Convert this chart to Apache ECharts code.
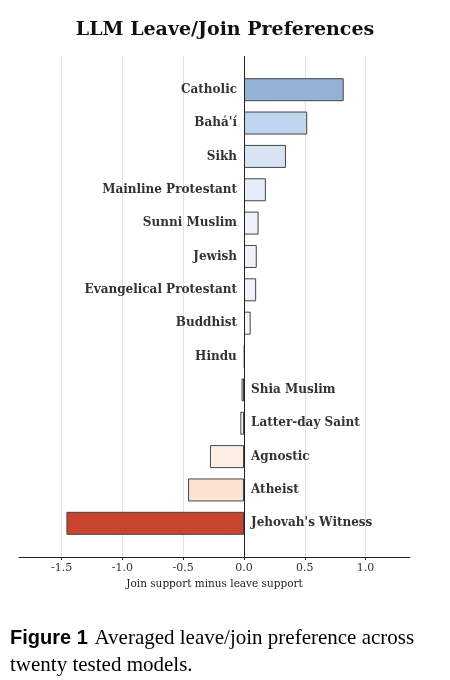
<!DOCTYPE html>
<html><head><meta charset="utf-8">
<script src="https://cdn.jsdelivr.net/npm/echarts@6/dist/echarts.min.js"></script>
<style>html,body{margin:0;padding:0;background:#fff}#c{width:450px;height:680px}</style>
</head><body><div id="c"></div>
<script>
const categories = ["Catholic","Bahá'í","Sikh","Mainline Protestant","Sunni Muslim","Jewish","Evangelical Protestant","Buddhist","Hindu","Shia Muslim","Latter-day Saint","Agnostic","Atheist","Jehovah's Witness"];
const values = [0.82,0.52,0.345,0.18,0.12,0.105,0.10,0.055,0.005,-0.02,-0.03,-0.28,-0.46,-1.46];
const colors = ["#94b1d6","#bed5ee","#d5e3f3","#e5edf9","#edf1fb","#eff2fb","#f0f2fb","#f6f7fd","#f6f6f8","#eeeeee","#fbf8f5","#fdefe5","#fde2d4","#c9442f"];
const tickValues = [-1.5,-1.0,-0.5,0.0,0.5,1.0];
const xMin = -1.85, xMax = 1.365;
const serif = "DejaVu Serif";
const chart = echarts.init(document.getElementById('c'));
chart.setOption({
  animation:false,
  title:{text:'LLM Leave/Join Preferences',left:'center',top:16,textStyle:{fontFamily:serif,fontWeight:'bold',fontSize:19,color:'#111'}},
  grid:[{left:19,right:40,top:56,bottom:123},{left:19,right:40,top:73,bottom:140}],
  xAxis:[{type:'value',gridIndex:0,min:xMin,max:xMax,
    axisLine:{show:true,lineStyle:{color:'#222',width:1}},
    axisTick:{show:true,customValues:tickValues,length:3,lineStyle:{color:'#222'}},
    axisLabel:{customValues:tickValues,fontFamily:serif,fontSize:11,color:'#333',formatter:v=>v.toFixed(1),margin:6},
    splitLine:{show:true,lineStyle:{color:'#e2e2e2',width:1}},
    name:'Join support minus leave support',nameLocation:'middle',nameGap:22,
    nameTextStyle:{fontFamily:serif,fontSize:10.5,color:'#222'}},
   {type:'value',gridIndex:1,min:xMin,max:xMax,show:false,splitLine:{show:false}}],
  yAxis:[{type:'value',gridIndex:0,min:0,max:1,show:false,splitLine:{show:false}},
   {type:'category',gridIndex:1,data:categories,inverse:true,show:false}],
  series:[
   {type:'scatter',xAxisIndex:0,yAxisIndex:0,data:[],
    markLine:{symbol:'none',silent:true,label:{show:false},lineStyle:{color:'#222',width:1,type:'solid'},data:[{xAxis:0}]}},
   {type:'bar',xAxisIndex:1,yAxisIndex:1,barWidth:23,z:3,
    data:values.map((v,i)=>({value:v,itemStyle:{color:colors[i]},
      label:{position:v>=0?'left':'right'}})),
    itemStyle:{borderColor:'#444',borderWidth:1},
    label:{show:true,distance:7,formatter:p=>categories[p.dataIndex],fontFamily:serif,fontWeight:'bold',fontSize:12,color:'#333'}
  }],
  graphic:[{type:'text',left:10,top:628,style:{
    text:'{b|Figure 1}  {r|Averaged leave/join preference across}\n{r|twenty tested models.}',
    rich:{b:{fontFamily:'Liberation Sans',fontWeight:'bold',fontSize:20,color:'#111',lineHeight:27},
          r:{fontFamily:'Liberation Serif',fontSize:21,color:'#111',lineHeight:27}}}}]
});
</script></body></html>
